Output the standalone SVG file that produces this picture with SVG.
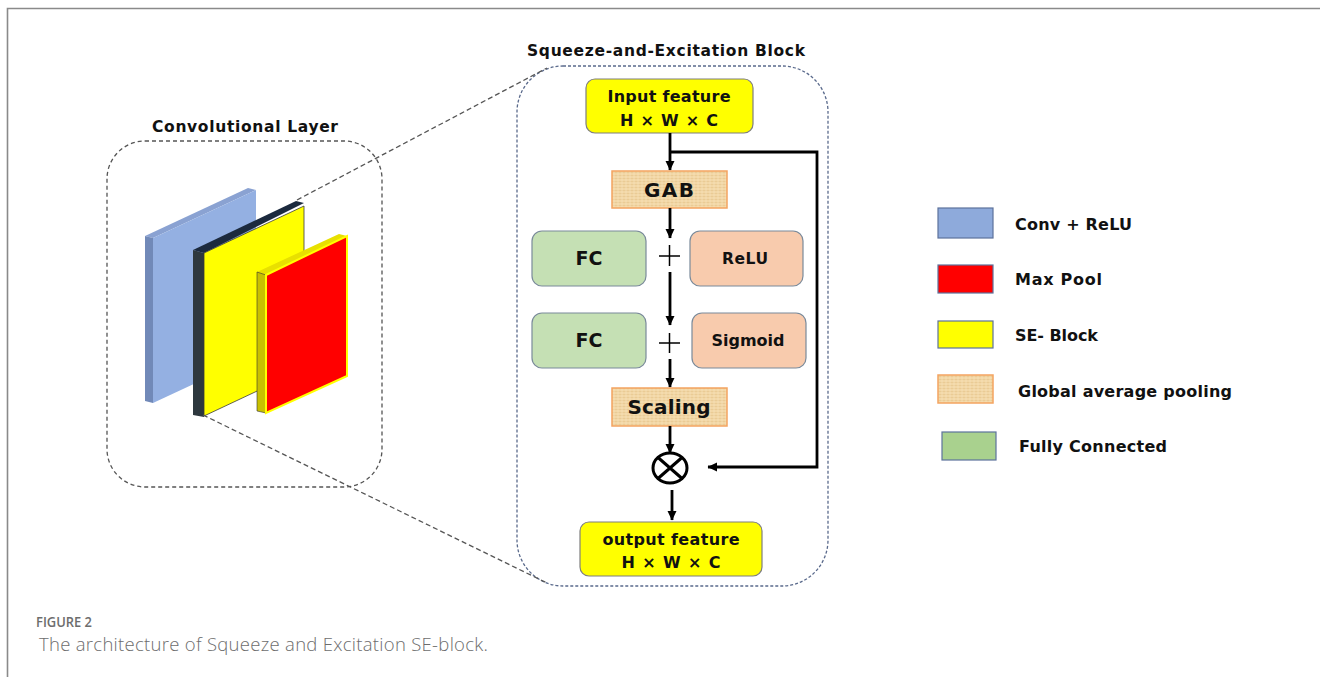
<svg xmlns="http://www.w3.org/2000/svg" width="1320" height="677" viewBox="0 0 1320 677">
  <defs>
    <style>
      .lbl { font-family: "DejaVu Sans", "Liberation Sans", sans-serif; font-weight: bold; fill: #111; }
      .mid { text-anchor: middle; }
      .flow { stroke: #000; stroke-width: 2.8; fill: none; }
      .plus { stroke: #000; stroke-width: 1.5; }
      .cap { font-family: "Open Sans", "Noto Sans", sans-serif; fill: #6d6d6d; }
      .fc { fill: #c5e0b4; stroke: #7a8a9a; stroke-width: 1.2; }
      .act { fill: #f8cbad; stroke: #7a8a9a; stroke-width: 1.2; }
      .feat { fill: #ffff00; stroke: #7f7f7f; stroke-width: 1.2; }
      .gab { fill: url(#papyrus); stroke: #f4a460; stroke-width: 1.5; }
    </style>
    <pattern id="papyrus" width="8" height="6" patternUnits="userSpaceOnUse">
      <rect width="8" height="6" fill="#f2d7a6"/>
      <path d="M0 1.5H8M0 4.5H8" stroke="#e8c890" stroke-width="0.8"/>
      <path d="M2 0V6M6 0V6" stroke="#f6e2bc" stroke-width="0.7"/>
    </pattern>
    <marker id="arr" markerWidth="10" markerHeight="10" refX="9" refY="5" orient="auto" markerUnits="userSpaceOnUse">
      <path d="M0 0.5 L9.5 5 L0 9.5 Z" fill="#000"/>
    </marker>
  </defs>

  <rect width="1320" height="677" fill="#fff"/>

  <!-- page frame -->
  <path d="M7.5 677 V8.5 H1320" fill="none" stroke="#8a8a8a" stroke-width="1.6"/>

  <!-- convolutional layer group -->
  <g id="conv-layer">
    <text class="lbl mid" x="245" y="132" font-size="15.5" textLength="186">Convolutional Layer</text>
    <rect x="107" y="141" width="275" height="346" rx="38" fill="none" stroke="#555" stroke-width="1.3" stroke-dasharray="4 3"/>
    <!-- conv + relu panel -->
    <polygon points="145,236 248,188 256,190 153,238" fill="#8aa2d2"/>
    <polygon points="145,236 153,238 153,403 145,401" fill="#7189b8"/>
    <polygon points="153,238 256,190 256,355 153,403" fill="#94b0e2"/>
    <!-- SE-block panel -->
    <polygon points="193,250 296,201 304,203 204,253" fill="#1c2a3e"/>
    <polygon points="193,250 204,253 204,417 193,415" fill="#2e383e"/>
    <polygon points="204,253 304,206 304,369 204,416" fill="#ffff00" stroke="#3a3a3a" stroke-width="0.8"/>
    <!-- max pool panel -->
    <polygon points="257,272 339,234 347,236 266,275" fill="#e8e000"/>
    <polygon points="257,272 266,275 266,413 257,411" fill="#c8c000" stroke="#333" stroke-width="0.6"/>
    <polygon points="266,275 347,236 347,376 266,413" fill="#ff0000" stroke="#ffff00" stroke-width="2"/>
  </g>

  <!-- SE block frame -->
  <g id="se-block">
    <text class="lbl mid" x="666" y="56" font-size="15.5" textLength="278">Squeeze-and-Excitation Block</text>
    <rect x="517" y="66" width="311" height="520" rx="46" fill="none" stroke="#5a6a8c" stroke-width="1.3" stroke-dasharray="3 2"/>
  </g>

  <!-- zoom guide lines -->
  <g id="guides" fill="none" stroke="#555" stroke-width="1.3" stroke-dasharray="5 3">
    <path d="M297 200 L547 68"/>
    <path d="M203 415 L547 583"/>
  </g>

  <g id="input-feature">
    <rect class="feat" x="586" y="79" width="167" height="54" rx="9"/>
    <text class="lbl mid" x="669" y="102" font-size="16" textLength="123">Input feature</text>
    <text class="lbl mid" x="669" y="126" font-size="16" textLength="98">H × W × C</text>
  </g>

  <g id="gab">
    <rect class="gab" x="612" y="171" width="115" height="37"/>
    <text class="lbl mid" x="669" y="197" font-size="20" textLength="50">GAB</text>
  </g>

  <g id="fc1">
    <rect class="fc" x="532" y="231" width="114" height="55" rx="10"/>
    <text class="lbl mid" x="589" y="265" font-size="19">FC</text>
  </g>
  <g id="relu">
    <rect class="act" x="690" y="231" width="113" height="55" rx="10"/>
    <text class="lbl mid" x="745" y="264" font-size="15.5" textLength="46">ReLU</text>
  </g>

  <g id="fc2">
    <rect class="fc" x="532" y="313" width="114" height="55" rx="10"/>
    <text class="lbl mid" x="589" y="347" font-size="19">FC</text>
  </g>
  <g id="sigmoid">
    <rect class="act" x="692" y="313" width="114" height="55" rx="10"/>
    <text class="lbl mid" x="748" y="346" font-size="16" textLength="73">Sigmoid</text>
  </g>

  <g id="scaling">
    <rect class="gab" x="612" y="388" width="115" height="38"/>
    <text class="lbl mid" x="669" y="414" font-size="20" textLength="83">Scaling</text>
  </g>

  <g id="multiply">
    <ellipse cx="670" cy="468" rx="17" ry="15" fill="none" stroke="#000" stroke-width="3"/>
    <path d="M658 457.5 L682 478.5 M682 457.5 L658 478.5" stroke="#000" stroke-width="3"/>
  </g>

  <g id="output-feature">
    <rect class="feat" x="580" y="522" width="182" height="54" rx="9"/>
    <text class="lbl mid" x="671" y="545" font-size="16" textLength="137">output feature</text>
    <text class="lbl mid" x="671" y="568" font-size="16" textLength="99">H × W × C</text>
  </g>

  <!-- connectors -->
  <g id="connectors">
    <path class="flow" d="M670 133 V170" marker-end="url(#arr)"/>
    <path class="flow" d="M670 152 H817 V467 H708" marker-end="url(#arr)"/>
    <path class="flow" d="M670 208 V238" marker-end="url(#arr)"/>
    <path class="plus" d="M659 256 H680 M669.5 245 V266"/>
    <path class="flow" d="M670 272 V325" marker-end="url(#arr)"/>
    <path class="plus" d="M659 343 H680 M669.5 333 V353"/>
    <path class="flow" d="M670 359 V387" marker-end="url(#arr)"/>
    <path class="flow" d="M670 426 V453" marker-end="url(#arr)"/>
    <path class="flow" d="M672 490 V520" marker-end="url(#arr)"/>
  </g>

  <!-- legend -->
  <g id="legend">
    <g id="legend-conv">
      <rect x="938" y="208" width="55" height="30" fill="#8eaadb" stroke="#5d729c" stroke-width="1.2"/>
      <text class="lbl" x="1015" y="230" font-size="16" textLength="117">Conv + ReLU</text>
    </g>
    <g id="legend-pool">
      <rect x="938" y="265" width="55" height="28" fill="#ff0000" stroke="#5d729c" stroke-width="1.2"/>
      <text class="lbl" x="1015" y="285" font-size="16" textLength="87">Max Pool</text>
    </g>
    <g id="legend-se">
      <rect x="938" y="321" width="55" height="27" fill="#ffff00" stroke="#5d729c" stroke-width="1.2"/>
      <text class="lbl" x="1015" y="341" font-size="16" textLength="83">SE- Block</text>
    </g>
    <g id="legend-gap">
      <rect class="gab" x="938" y="375" width="55" height="28"/>
      <text class="lbl" x="1018" y="397" font-size="16" textLength="214">Global average pooling</text>
    </g>
    <g id="legend-fc">
      <rect x="942" y="432" width="54" height="28" fill="#a9d18e" stroke="#5d729c" stroke-width="1.2"/>
      <text class="lbl" x="1019" y="452" font-size="16" textLength="148">Fully Connected</text>
    </g>
  </g>

  <!-- caption -->
  <g id="caption">
    <text class="cap" x="36" y="627" font-size="14.5" font-weight="600" fill="#8a8a8a" textLength="56" lengthAdjust="spacingAndGlyphs">FIGURE 2</text>
    <text class="cap" x="39" y="651" font-size="18.5" font-weight="300" textLength="449">The architecture of Squeeze and Excitation SE-block.</text>
  </g>
</svg>
